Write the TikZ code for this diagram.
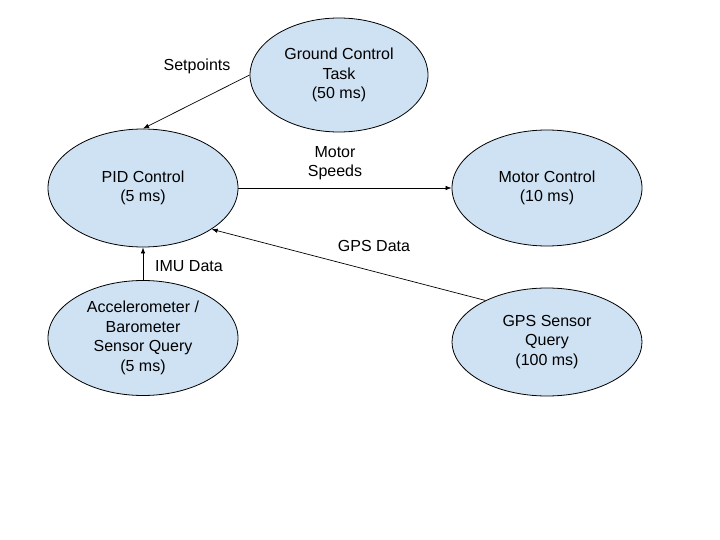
\documentclass[tikz,border=0pt]{standalone}
\usepackage{fontspec}
\setmainfont{Liberation Sans}
\usepackage{xcolor}
\definecolor{task-blue}{HTML}{CFE2F3}
\usetikzlibrary{shapes.geometric, arrows.meta}

\begin{document}
\begin{tikzpicture}[x=1pt, y=-1pt,
      every node/.style={font=\fontsize{16}{19.5}\selectfont},
      task/.style={ellipse, draw=black, fill=task-blue, line width=0.8pt,
                   inner sep=0pt, align=center},
      flow/.style={-{Latex[length=6pt, width=4.5pt]}, line width=0.7pt}]
    \useasboundingbox (0,0) rectangle (720,540);
    % tasks
    \node[task, minimum width=178pt, minimum height=114pt] (gc) at (339,75) {Ground Control\\Task\\(50 ms)};
    \node[task, minimum width=190pt, minimum height=118pt] (pid) at (143,188) {PID Control\\(5 ms)};
    \node[task, minimum width=190pt, minimum height=116pt] (mc) at (547,188) {Motor Control\\(10 ms)};
    \node[task, minimum width=190pt, minimum height=115pt] (acc) at (143,338) {Accelerometer /\\Barometer\\Sensor Query\\(5 ms)};
    \node[task, minimum width=190pt, minimum height=108pt] (gps) at (547,342) {GPS Sensor\\Query\\(100 ms)};
    % data flows
    \draw[flow] (gc.west) -- (pid.north);
    \draw[flow] (pid.east) -- (mc.west);
    \draw[flow] (acc.north) -- (pid.south);
    \draw[flow] (gps.146) -- (pid.-31);
    \node[align=center] (setp) at (197,66) {Setpoints};
    \node[align=center] (speeds) at (335,163) {Motor\\Speeds};
    \node[align=center] (imu) at (189,266) {IMU Data};
    \node[align=center] (gpsd) at (374,246) {GPS Data};
  \end{tikzpicture}
\end{document}
